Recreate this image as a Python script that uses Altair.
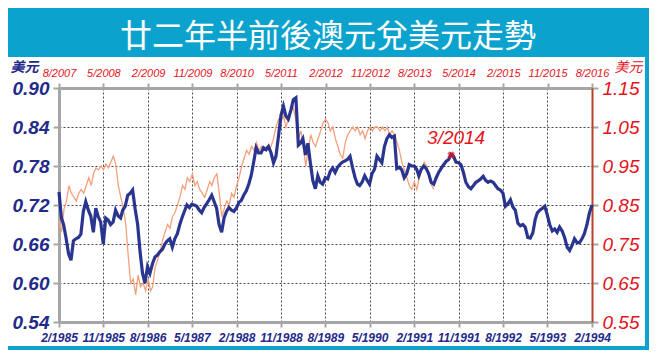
import altair as alt
import pandas as pd
from datetime import datetime, timezone

# ---------------- data ----------------
TITLE = "廿二年半前後澳元兌美元走勢"
UNIT = "美元"

# navy series: AUD/USD, half-monthly from 2/1985 to 2/1994 (left / bottom axes)
navy_start = (1985, 2)
navy_vals = [
    0.740, 0.700, 0.690, 0.670, 0.645, 0.635, 0.665, 0.668, 0.670, 0.675,
    0.710, 0.725, 0.712, 0.703, 0.678, 0.715, 0.702, 0.694, 0.660, 0.700,
    0.697, 0.690, 0.694, 0.712, 0.703, 0.700, 0.712, 0.718, 0.735, 0.738,
    0.743, 0.715, 0.690, 0.648, 0.615, 0.600, 0.625, 0.615, 0.630, 0.640,
    0.643, 0.648, 0.652, 0.660, 0.665, 0.668, 0.655, 0.668, 0.676, 0.690,
    0.700, 0.710, 0.720, 0.716, 0.721, 0.720, 0.718, 0.712, 0.708, 0.716,
    0.722, 0.728, 0.735, 0.725, 0.715, 0.690, 0.678, 0.700, 0.710, 0.716,
    0.712, 0.710, 0.716, 0.724, 0.727, 0.735, 0.742, 0.752, 0.765, 0.785,
    0.808, 0.800, 0.800, 0.808, 0.805, 0.810, 0.800, 0.785, 0.795, 0.825,
    0.858, 0.872, 0.857, 0.852, 0.866, 0.882, 0.885, 0.812, 0.815, 0.822,
    0.797, 0.815, 0.785, 0.758, 0.745, 0.765, 0.755, 0.752, 0.762, 0.760,
    0.772, 0.777, 0.770, 0.778, 0.783, 0.786, 0.788, 0.790, 0.795, 0.778,
    0.762, 0.752, 0.750, 0.755, 0.765, 0.758, 0.752, 0.768, 0.775, 0.795,
    0.790, 0.785, 0.810, 0.822, 0.828, 0.824, 0.826, 0.776, 0.778, 0.774,
    0.762, 0.768, 0.782, 0.780, 0.780, 0.775, 0.765, 0.775, 0.780, 0.776,
    0.768, 0.755, 0.752, 0.762, 0.770, 0.776, 0.782, 0.787, 0.790, 0.798,
    0.795, 0.786, 0.785, 0.782, 0.770, 0.755, 0.748, 0.745, 0.750, 0.755,
    0.757, 0.760, 0.764, 0.758, 0.755, 0.757, 0.755, 0.750, 0.745, 0.743,
    0.738, 0.718, 0.722, 0.728, 0.717, 0.712, 0.692, 0.688, 0.690, 0.686,
    0.670, 0.669, 0.677, 0.698, 0.708, 0.712, 0.715, 0.718, 0.705, 0.690,
    0.680, 0.683, 0.678, 0.686, 0.680, 0.670, 0.655, 0.650, 0.658, 0.668,
    0.662, 0.662, 0.668, 0.676, 0.690, 0.708, 0.720,
]

# orange series: AUD/USD, half-monthly from 8/2007 (right / top axes)
orange_start = (2007, 8)
orange_vals = [
    0.81, 0.78, 0.84, 0.86, 0.90, 0.88, 0.87, 0.86, 0.88, 0.89,
    0.88, 0.90, 0.92, 0.90, 0.93, 0.945, 0.94, 0.95, 0.94, 0.955,
    0.945, 0.96, 0.975, 0.955, 0.90, 0.87, 0.84, 0.80, 0.72, 0.65,
    0.66, 0.62, 0.67, 0.64, 0.65, 0.63, 0.66, 0.63, 0.64, 0.69,
    0.71, 0.73, 0.76, 0.78, 0.80, 0.79, 0.82, 0.83, 0.85, 0.87,
    0.90, 0.89, 0.92, 0.91, 0.93, 0.90, 0.91, 0.89, 0.88, 0.87,
    0.89, 0.91, 0.90, 0.92, 0.93, 0.88, 0.82, 0.84, 0.86, 0.85,
    0.88, 0.87, 0.90, 0.92, 0.95, 0.97, 0.99, 0.98, 1.00, 0.99,
    1.01, 0.99, 1.00, 0.99, 1.00, 0.99, 1.00, 1.02, 1.05, 1.07,
    1.06, 1.08, 1.05, 1.07, 1.09, 1.10, 1.07, 1.02, 1.04, 1.00,
    0.95, 0.99, 1.03, 1.01, 1.00, 1.02, 1.04, 1.06, 1.07, 1.06,
    1.04, 1.05, 1.02, 1.00, 0.98, 0.97, 1.01, 1.03, 1.04, 1.05,
    1.04, 1.05, 1.03, 1.04, 1.02, 1.04, 1.05, 1.04, 1.05, 1.05,
    1.04, 1.05, 1.04, 1.05, 1.03, 1.04, 1.03, 1.01, 0.99, 0.96,
    0.94, 0.92, 0.90, 0.89, 0.91, 0.89, 0.92, 0.94, 0.96, 0.95,
    0.92, 0.90, 0.89,
]

marker_date = "2014-03-16"
marker_value = 0.978
marker_label = "3/2014"

bottom_labels = ["2/1985", "11/1985", "8/1986", "5/1987", "2/1988", "11/1988", "8/1989",
                 "5/1990", "2/1991", "11/1991", "8/1992", "5/1993", "2/1994"]
top_labels = ["8/2007", "5/2008", "2/2009", "11/2009", "8/2010", "5/2011", "2/2012",
              "11/2012", "8/2013", "5/2014", "2/2015", "11/2015", "8/2016"]
left_ticks = [0.54, 0.60, 0.66, 0.72, 0.78, 0.84, 0.90]
right_ticks = [0.55, 0.65, 0.75, 0.85, 0.95, 1.05, 1.15]

# ---------------- helpers ----------------
def half_month_dates(start, n):
    y, m = start
    out = []
    for i in range(n):
        mm = m - 1 + i // 2
        out.append(f"{y + mm // 12:04d}-{mm % 12 + 1:02d}-{'01' if i % 2 == 0 else '16'}")
    return out

def label_ms(lbl):
    m, y = lbl.split("/")
    return int(datetime(int(y), int(m), 1, tzinfo=timezone.utc).timestamp() * 1000)

navy_df = pd.DataFrame({"date": half_month_dates(navy_start, len(navy_vals)), "v": navy_vals})
orange_df = pd.DataFrame({"date": half_month_dates(orange_start, len(orange_vals)), "v": orange_vals})
marker_df = pd.DataFrame({"date": [marker_date], "v": [marker_value], "t": [marker_label]})

bottom_vals = [label_ms(s) for s in bottom_labels]
top_vals = [label_ms(s) for s in top_labels]

NAVY = "#1F2A8A"
RED = "#E3141C"
ORANGE = "#F4A07C"
BLUE = "#0BA3CE"
GRAY = "#A6A6A6"
LBL_EXPR = "(utcmonth(datum.value)+1) + '/' + utcyear(datum.value)"
W, H = 533, 234
PAD = {"left": 51, "top": 80, "right": 57, "bottom": 28}

x_bottom_scale = alt.Scale(type="utc", domain=[bottom_vals[0], bottom_vals[-1]])
x_top_scale = alt.Scale(type="utc", domain=[top_vals[0], top_vals[-1]])
y_left_scale = alt.Scale(domain=[left_ticks[0], left_ticks[-1]], nice=False, zero=False)
y_right_scale = alt.Scale(domain=[right_ticks[0], right_ticks[-1]], nice=False, zero=False)

bottom_axis = alt.Axis(
    orient="bottom", values=bottom_vals, labelExpr=LBL_EXPR, title=None,
    labelFont="Liberation Sans", labelFontSize=12,
    labelFontStyle="italic", labelFontWeight="bold", labelColor=NAVY, labelPadding=5,
    labelOverlap=False, labelFlush=False,
    tickColor=GRAY, tickSize=5, tickWidth=2, domainColor=GRAY, domainWidth=3,
    grid=True, gridColor="#333333", gridDash=[2, 2], gridWidth=1, gridOpacity=0.9,
)
top_axis = alt.Axis(
    orient="top", values=top_vals, labelExpr=LBL_EXPR, title=None,
    labelFont="Liberation Sans", labelFontSize=11,
    labelFontStyle="italic", labelColor=RED, labelPadding=5,
    labelOverlap=False, labelFlush=False,
    tickColor=GRAY, tickSize=5, tickWidth=2, domainColor=GRAY, domainWidth=3, grid=False,
)
left_axis = alt.Axis(
    orient="left", values=left_ticks, format=".2f", title=UNIT,
    titleAngle=0, titleX=-35, titleY=-21, titleAlign="center", titleBaseline="middle",
    titleFont="Noto Sans CJK TC", titleFontSize=14, titleFontStyle="italic",
    titleFontWeight="bold", titleColor=NAVY,
    labelFont="Liberation Sans", labelFontSize=19, labelFontStyle="italic",
    labelFontWeight="bold", labelColor=NAVY, labelPadding=4,
    tickColor=GRAY, tickSize=6, tickWidth=2, domainColor=GRAY, domainWidth=3,
    grid=True, gridColor="#333333", gridDash=[2, 2], gridWidth=1, gridOpacity=0.9,
)
right_axis = alt.Axis(
    orient="right", values=right_ticks, format=".2f", title=UNIT,
    titleAngle=0, titleX=36, titleY=-21, titleAlign="center", titleBaseline="middle",
    titleFont="Noto Sans CJK TC", titleFontSize=14, titleFontStyle="italic",
    titleFontWeight="normal", titleColor=RED,
    labelFont="Liberation Sans", labelFontSize=19, labelFontStyle="italic",
    labelColor=RED, labelPadding=4,
    tickColor=GRAY, tickSize=6, tickWidth=2, domainColor="#B8402A", domainWidth=2, grid=False,
)

one = pd.DataFrame({"a": [0]})

banner = alt.Chart(one).mark_rect(color=BLUE).encode(
    x=alt.value(-PAD["left"]), x2=alt.value(W + PAD["right"]),
    y=alt.value(-PAD["top"]), y2=alt.value(-31))
right_strip = alt.Chart(one).mark_rect(color=BLUE).encode(
    x=alt.value(W + PAD["right"] - 4), x2=alt.value(W + PAD["right"]),
    y=alt.value(-31), y2=alt.value(H + PAD["bottom"]))
bottom_strip = alt.Chart(one).mark_rect(color=BLUE).encode(
    x=alt.value(-PAD["left"]), x2=alt.value(W + PAD["right"]),
    y=alt.value(H + PAD["bottom"] - 4), y2=alt.value(H + PAD["bottom"]))
title = alt.Chart(one).mark_text(
    text=TITLE, color="white", font="Noto Sans CJK TC", fontSize=32,
    align="center", baseline="alphabetic").encode(x=alt.value(269), y=alt.value(-41))

orange_line = alt.Chart(orange_df).mark_line(color=ORANGE, strokeWidth=1.3).encode(
    x=alt.X("date:T", scale=x_top_scale, axis=top_axis),
    y=alt.Y("v:Q", scale=y_right_scale, axis=right_axis),
)
marker = alt.Chart(marker_df).mark_point(
    shape="cross", angle=45, color=RED, filled=True, size=60).encode(
    x=alt.X("date:T", scale=x_top_scale, axis=None),
    y=alt.Y("v:Q", scale=y_right_scale, axis=None),
)
marker_text = alt.Chart(marker_df).mark_text(
    color=RED, font="Liberation Sans", fontSize=19, fontStyle="italic",
    align="center", baseline="middle", dx=5, dy=-17).encode(
    x=alt.X("date:T", scale=x_top_scale, axis=None),
    y=alt.Y("v:Q", scale=y_right_scale, axis=None),
    text="t:N",
)
navy_line = alt.Chart(navy_df).mark_line(color=NAVY, strokeWidth=3.2, opacity=0.95).encode(
    x=alt.X("date:T", scale=x_bottom_scale, axis=bottom_axis),
    y=alt.Y("v:Q", scale=y_left_scale, axis=left_axis),
)

chart = alt.layer(
    banner, right_strip, bottom_strip, title, orange_line, navy_line, marker, marker_text
).resolve_scale(x="independent", y="independent").properties(
    width=W, height=H, padding=PAD,
    autosize=alt.AutoSizeParams(type="none"),
    background="white",
).configure_view(stroke=None)

chart.save("out.html", embed_options={"renderer": "svg", "actions": False})
